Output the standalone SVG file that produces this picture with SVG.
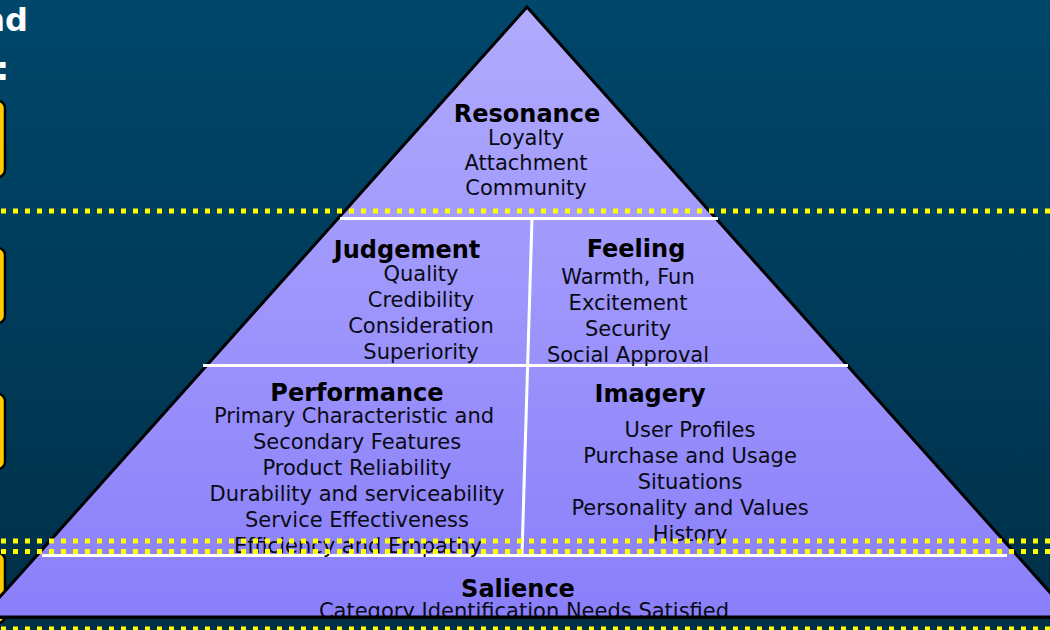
<svg xmlns="http://www.w3.org/2000/svg" width="1050" height="630" viewBox="0 0 1050 630">
  <defs>
    <linearGradient id="bg" x1="0" y1="0" x2="0" y2="1">
      <stop offset="0" stop-color="#00476B"/>
      <stop offset="1" stop-color="#002F48"/>
    </linearGradient>
    <linearGradient id="pyr" x1="0" y1="0" x2="0" y2="1">
      <stop offset="0" stop-color="#B0ABFD"/>
      <stop offset="1" stop-color="#8A7FFA"/>
    </linearGradient>
    <clipPath id="pyrClip">
      <polygon points="527,7 1072,617 -18,617"/>
    </clipPath>
    <style>
      .title { font-family: "DejaVu Sans", Verdana, sans-serif; font-weight: bold; font-size: 24px; fill: #000; text-anchor: middle; }
      .item { font-family: "DejaVu Sans", Verdana, sans-serif; font-size: 21px; fill: #0a0a14; text-anchor: middle; }
      .head { font-family: "DejaVu Sans", Verdana, sans-serif; font-weight: bold; font-size: 32px; fill: #fff; }
      .tab { fill: #FFCC00; stroke: #000; stroke-width: 2.5; }
      .divider { stroke: #fff; stroke-width: 3; fill: none; }
      .guide { stroke: #FFFF00; stroke-width: 5; stroke-dasharray: 5 7; fill: none; }
    </style>
  </defs>

  <!-- backdrop -->
  <rect x="0" y="0" width="1050" height="630" fill="url(#bg)"/>

  <!-- heading fragment at the left edge -->
  <text class="head" x="28" y="31" text-anchor="end">nd</text>
  <text class="head" x="9" y="80" text-anchor="end">:</text>

  <!-- side tabs -->
  <g id="tabs">
    <rect class="tab" x="-30" y="101" width="35" height="76" rx="7"/>
    <rect class="tab" x="-30" y="248" width="35" height="75" rx="7"/>
    <rect class="tab" x="-30" y="394" width="35" height="75" rx="7"/>
    <rect class="tab" x="-30" y="553" width="35" height="70" rx="7"/>
  </g>

  <!-- pyramid body -->
  <g id="pyramid">
    <polygon points="527,7 1072,617 -18,617" fill="url(#pyr)" stroke="#000" stroke-width="3" stroke-linejoin="miter"/>
  </g>

  <!-- tier dividers -->
  <g id="connectors">
    <line class="divider" x1="340" y1="218.5" x2="718" y2="218.5"/>
    <line class="divider" x1="203" y1="365.5" x2="848" y2="365.5"/>
    <line class="divider" x1="42" y1="555.5" x2="1007" y2="555.5"/>
    <line class="divider" x1="532" y1="218" x2="522" y2="555"/>
  </g>

  <g clip-path="url(#pyrClip)">
    <g id="resonance">
      <text class="title" x="527" y="122">Resonance</text>
      <text class="item" x="526" y="145">Loyalty</text>
      <text class="item" x="526" y="170">Attachment</text>
      <text class="item" x="526" y="195">Community</text>
    </g>

    <g id="judgement">
      <text class="title" x="407" y="258">Judgement</text>
      <text class="item" x="421" y="281">Quality</text>
      <text class="item" x="421" y="307">Credibility</text>
      <text class="item" x="421" y="333">Consideration</text>
      <text class="item" x="421" y="359">Superiority</text>
    </g>

    <g id="feeling">
      <text class="title" x="636" y="257">Feeling</text>
      <text class="item" x="628" y="284">Warmth, Fun</text>
      <text class="item" x="628" y="310">Excitement</text>
      <text class="item" x="628" y="336">Security</text>
      <text class="item" x="628" y="362">Social Approval</text>
    </g>

    <g id="performance">
      <text class="title" x="357" y="401">Performance</text>
      <text class="item" x="354" y="423">Primary Characteristic and</text>
      <text class="item" x="357" y="449">Secondary Features</text>
      <text class="item" x="357" y="475">Product Reliability</text>
      <text class="item" x="357" y="501">Durability and serviceability</text>
      <text class="item" x="357" y="527">Service Effectiveness</text>
      <text class="item" x="358" y="553">Efficiency and Empathy</text>
    </g>

    <g id="imagery">
      <text class="title" x="650" y="402">Imagery</text>
      <text class="item" x="690" y="437">User Profiles</text>
      <text class="item" x="690" y="463">Purchase and Usage</text>
      <text class="item" x="690" y="489">Situations</text>
      <text class="item" x="690" y="515">Personality and Values</text>
      <text class="item" x="690" y="541">History</text>
    </g>

    <g id="salience">
      <text class="title" x="518" y="597">Salience</text>
      <text class="item" x="524" y="618">Category Identification Needs Satisfied</text>
    </g>
  </g>

  <!-- base edge of the pyramid redrawn over clipped text -->
  <line x1="0" y1="617.5" x2="1050" y2="617.5" stroke="#000" stroke-width="3"/>

  <!-- dotted level guides -->
  <g id="guides">
    <line class="guide" x1="1" y1="211" x2="1050" y2="211"/>
    <line class="guide" x1="1" y1="541" x2="1050" y2="541"/>
    <line class="guide" x1="1" y1="551.5" x2="1050" y2="551.5"/>
    <line class="guide" x1="1" y1="629" x2="1050" y2="629"/>
  </g>
</svg>
